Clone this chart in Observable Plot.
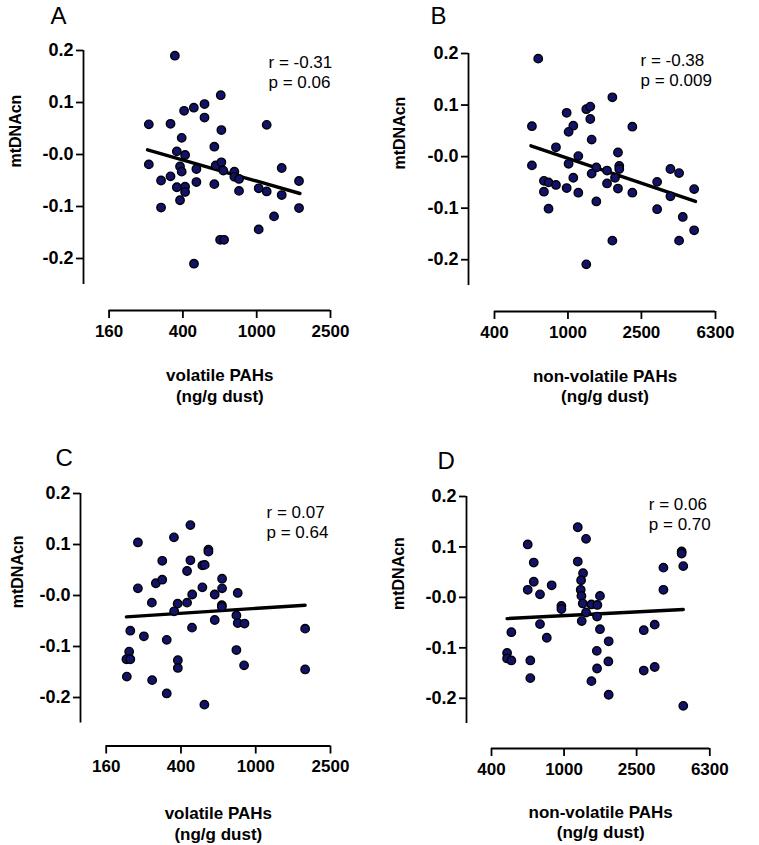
<!DOCTYPE html>
<html>
<head>
<meta charset="utf-8">
<script src="https://cdn.jsdelivr.net/npm/d3@7"></script>
<script src="https://cdn.jsdelivr.net/npm/@observablehq/plot@0.6"></script>
<style>
  html, body { margin: 0; padding: 0; background: white; }
  #grid { display: grid; grid-template-columns: 380px 379px; grid-template-rows: 420px 425px; width: 759px; height: 845px; }
  #grid svg { display: block; overflow: visible; }
</style>
</head>
<body>
<div id="grid"></div>
<script>
// ---- Data ----
const yTicks = [-0.2, -0.1, 0, 0.1, 0.2];
const yTickLabels = ["-0.2", "-0.1", "-0.0", "0.1", "0.2"];
const yDomain = [-0.25, 0.2];
const volatileTicks = [160, 400, 1000, 2500];
const nonVolatileTicks = [400, 1000, 2500, 6300];
const yTitle = "mtDNAcn";
const xTitleVolatile = "volatile PAHs\n(ng/g dust)";
const xTitleNonVolatile = "non-volatile PAHs\n(ng/g dust)";
const panelLetters = ["A", "B", "C", "D"];
const statsText = ["r = -0.31\np = 0.06", "r = -0.38\np = 0.009", "r = 0.07\np = 0.64", "r = 0.06\np = 0.70"];

const xA = [362,640,406,458,523,523,262,343,1132,645,394,591,371,411,262,386,394,473,601,645,661,758,758,803,305,343,473,591,371,411,411,803,1025,1132,1364,1364,1691,1691,386,305,1240,1025,635,667,459];
const yA = [0.190,0.114,0.084,0.090,0.097,0.071,0.058,0.059,0.057,0.047,0.032,0.015,0.006,-0.001,-0.019,-0.023,-0.033,-0.028,-0.021,-0.015,-0.031,-0.033,-0.043,-0.047,-0.050,-0.042,-0.053,-0.057,-0.063,-0.062,-0.072,-0.070,-0.065,-0.071,-0.026,-0.078,-0.051,-0.103,-0.088,-0.102,-0.119,-0.144,-0.164,-0.164,-0.210];
const fitAx = [258, 1710], fitAy = [0.009, -0.075];

const xB = [690,1740,984,1257,1321,1321,638,1069,2233,1008,1344,861,1138,1866,638,1008,1425,1628,1897,1897,1344,1798,741,785,1069,1628,3042,3590,4000,861,984,741,1138,1866,2233,3590,4827,785,1425,3042,4188,4827,1740,4000,1257];
const yB = [0.190,0.115,0.085,0.092,0.097,0.073,0.059,0.060,0.058,0.048,0.033,0.018,0.001,0.008,-0.017,-0.014,-0.021,-0.027,-0.018,-0.024,-0.033,-0.041,-0.047,-0.050,-0.041,-0.052,-0.049,-0.024,-0.032,-0.055,-0.061,-0.068,-0.070,-0.062,-0.070,-0.077,-0.063,-0.101,-0.087,-0.102,-0.117,-0.143,-0.163,-0.163,-0.209];
const fitBx = [630, 4910], fitBy = [0.021, -0.087];

const xC = [449,236,367,318,449,560,560,431,520,535,294,318,662,236,520,662,459,605,802,280,384,431,660,660,368,789,458,605,215,802,871,254,336,1832,789,212,205,215,385,385,867,1832,206,281,336,533];
const yC = [0.138,0.104,0.114,0.068,0.069,0.090,0.086,0.048,0.059,0.060,0.024,0.031,0.033,0.014,0.016,0.014,0.002,0.002,0.005,-0.014,-0.016,-0.014,-0.019,-0.022,-0.031,-0.039,-0.063,-0.048,-0.069,-0.054,-0.055,-0.080,-0.087,-0.065,-0.107,-0.110,-0.125,-0.125,-0.127,-0.142,-0.137,-0.145,-0.159,-0.166,-0.192,-0.214];
const fitCx = [205, 1832], fitCy = [-0.042, -0.019];

const xD = [1189,1320,632,682,1189,1271,1240,682,855,632,1234,738,1245,1574,1266,1413,1523,967,967,1320,1517,1250,738,3507,3507,4415,4415,4507,514,1574,804,2736,3141,1757,487,487,514,653,1512,1750,1517,653,1413,2736,3141,1757,4507];
const yD = [0.139,0.116,0.105,0.069,0.071,0.048,0.034,0.031,0.024,0.015,0.015,0.006,0.003,0.003,-0.012,-0.014,-0.015,-0.017,-0.023,-0.030,-0.038,-0.047,-0.053,0.059,0.015,0.091,0.087,0.062,-0.069,-0.063,-0.080,-0.065,-0.054,-0.087,-0.110,-0.121,-0.125,-0.125,-0.106,-0.127,-0.141,-0.160,-0.166,-0.145,-0.138,-0.193,-0.215];
const fitDx = [487, 4507], fitDy = [-0.042, -0.024];

// ---- Panel builder ----
const FONT = 'Arial, "Liberation Sans", Helvetica, sans-serif';

function panel(c) {
  const pts = c.xs.map((x, i) => ({x, y: c.ys[i]}));
  const fit = c.fx.map((x, i) => ({x, y: c.fy[i]}));
  const xd = [c.xTicks[0], c.xTicks[c.xTicks.length - 1]];
  return Plot.plot({
    width: c.width, height: c.height,
    marginLeft: c.ml, marginTop: c.mt, marginRight: c.mr, marginBottom: c.mb,
    style: {fontFamily: FONT, color: "black", background: "white", overflow: "visible"},
    x: {type: "log", domain: xd, insetLeft: c.il},
    y: {domain: yDomain, insetBottom: c.ib},
    marks: [
      Plot.ruleX([xd[0]], {y1: yDomain[0], y2: yDomain[1], dx: -c.il, stroke: "black", strokeWidth: 1.8}),
      Plot.axisY({ticks: yTicks, tickFormat: (d) => yTickLabels[yTicks.indexOf(d)], tickSize: 7, tickPadding: 3,
        fontSize: 18, fontWeight: "bold", strokeWidth: 1.8, label: null}),
      Plot.ruleY([yDomain[0]], {x1: xd[0], x2: xd[1], dy: c.ib, stroke: "black", strokeWidth: 1.8}),
      Plot.axisX({ticks: c.xTicks, tickFormat: (d) => String(d), tickSize: 8, tickPadding: 6,
        fontSize: 17, fontWeight: "bold", strokeWidth: 1.8, label: null}),
      Plot.line(fit, {x: "x", y: "y", stroke: "black", strokeWidth: 3.4}),
      Plot.dot(pts, {x: "x", y: "y", r: 4.2, fill: "#12126a", stroke: "black", strokeWidth: 1.4}),
      Plot.text([c.letter], {frameAnchor: "top-left", textAnchor: "start", lineAnchor: "bottom",
        dx: c.ldx, dy: c.ldy, fontSize: 24}),
      Plot.text([c.stats], {frameAnchor: "top-right", textAnchor: "start", lineAnchor: "top",
        dx: c.sdx, dy: c.sdy, fontSize: 17, lineHeight: 1.18}),
      Plot.text([yTitle], {y: (yDomain[0] + yDomain[1]) / 2, frameAnchor: "left", rotate: -90,
        dx: c.ydx, fontSize: 16, fontWeight: "bold"}),
      Plot.text([c.xTitle], {x: Math.sqrt(xd[0] * xd[1]), frameAnchor: "bottom", lineAnchor: "middle",
        dy: c.xdy, fontSize: 17, fontWeight: "bold", lineHeight: 1.2})
    ]
  });
}

const panels = [
  {letter: panelLetters[0], stats: statsText[0], xs: xA, ys: yA, fx: fitAx, fy: fitAy, xTicks: volatileTicks, xTitle: xTitleVolatile,
   width: 380, height: 420, ml: 83, mt: 50, mr: 50, mb: 110, il: 25.6, ib: 26,
   ldx: -33, ldy: -27, sdx: -62, sdy: 3, ydx: -68, xdy: 74.5},
  {letter: panelLetters[1], stats: statsText[1], xs: xB, ys: yB, fx: fitBx, fy: fitBy, xTicks: nonVolatileTicks, xTitle: xTitleNonVolatile,
   width: 379, height: 420, ml: 88, mt: 53, mr: 44, mb: 109, il: 26, ib: 26,
   ldx: -38, ldy: -30, sdx: -75, sdy: -2, ydx: -69, xdy: 74},
  {letter: panelLetters[2], stats: statsText[2], xs: xC, ys: yC, fx: fitCx, fy: fitCy, xTicks: volatileTicks, xTitle: xTitleVolatile,
   width: 380, height: 425, ml: 80, mt: 73, mr: 50, mb: 99.5, il: 25.7, ib: 23,
   ldx: -25, ldy: -28, sdx: -64, sdy: 10.5, ydx: -63, xdy: 77},
  {letter: panelLetters[3], stats: statsText[3], xs: xD, ys: yD, fx: fitDx, fy: fitDy, xTicks: nonVolatileTicks, xTitle: xTitleNonVolatile,
   width: 379, height: 425, ml: 86, mt: 76, mr: 49.7, mb: 97, il: 25, ib: 25,
   ldx: -29, ldy: -28, sdx: -61, sdy: -1, ydx: -68, xdy: 73}
];

const grid = document.getElementById("grid");
for (const c of panels) grid.appendChild(panel(c));
</script>
</body>
</html>
